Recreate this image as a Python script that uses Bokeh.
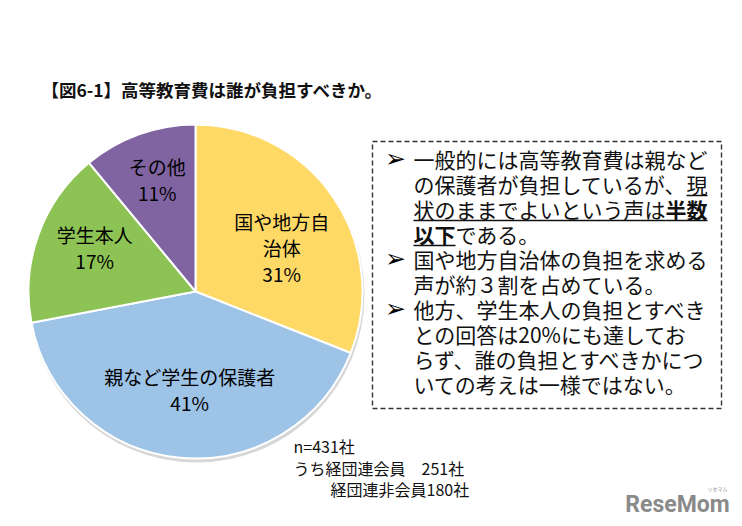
import math
from bokeh.plotting import figure
from bokeh.models import Range1d, ColumnDataSource
from bokeh.core.properties import value
from bokeh.embed import file_html
from bokeh.resources import INLINE

# ---------------- data ----------------
categories = ["国や地方自治体", "親など学生の保護者", "学生本人", "その他"]
shares = [31, 41, 17, 11]
label_lines = [["国や地方自", "治体"], ["親など学生の保護者"], ["学生本人"], ["その他"]]
title_text = "【図6-1】高等教育費は誰が負担すべきか。"
note_lines = ["n=431社", "うち経団連会員\u3000251社", "経団連非会員180社"]
box_lines = [
    [("一般的には高等教育費は親など", False, False)],
    [("の保護者が負担しているが、", False, False), ("現", False, True)],
    [("状のままでよいという声は", False, True), ("半数", True, True)],
    [("以下", True, True), ("である。", False, False)],
    [("国や地方自治体の負担を求める", False, False)],
    [("声が約３割を占めている。", False, False)],
    [("他方、学生本人の負担とすべき", False, False)],
    [("との回答は20%にも達してお", False, False)],
    [("らず、誰の負担とすべきかにつ", False, False)],
    [("いての考えは一様ではない。", False, False)],
]
bullet_rows = [0, 4, 6]

# ---------------- style / layout ----------------
colors = ["#FFD966", "#9DC3E6", "#8DC354", "#8064A2"]
JP = value("Noto Sans CJK JP")
W, H = 734, 518


def X(x):
    return x


def Y(y):
    return H - y


p = figure(width=W, height=H, x_range=Range1d(0, W), y_range=Range1d(0, H),
           output_backend="svg", toolbar_location=None, min_border=0)
p.axis.visible = False
p.grid.visible = False
p.outline_line_color = None
p.background_fill_color = "white"

# title
p.text(x=[X(41)], y=[Y(89)], text=[title_text], text_font=JP, text_font_style="bold",
       text_font_size="17.5px", text_baseline="middle", text_align="left", text_color="#111111")

# pie
cx, cy, R = X(195), Y(291), 167
total = float(sum(shares))
starts, ends, mids = [], [], []
cum = 0.0
for v in shares:
    a0 = math.pi / 2 - 2 * math.pi * cum / total
    cum += v
    a1 = math.pi / 2 - 2 * math.pi * cum / total
    starts.append(a0)
    ends.append(a1)
    mids.append((a0 + a1) / 2)

# soft shadow
p.circle(x=[cx + 1], y=[cy - 3], radius=R + 1, fill_color="#bdbdbd", fill_alpha=0.6, line_color=None)
src = ColumnDataSource(dict(start=starts, end=ends, color=colors, cat=categories))
p.wedge(x=cx, y=cy, radius=R, start_angle="start", end_angle="end", direction="clock",
        fill_color="color", line_color="white", line_width=2, source=src)

# labels
label_r = [0.58, 0.59, 0.66, 0.71]
label_nudge = [-7, 2, -4, -1]  # degrees
line_gap = 26
for i, v in enumerate(shares):
    ang = mids[i] + math.radians(label_nudge[i])
    lx = cx + label_r[i] * R * math.cos(ang)
    ly = cy + label_r[i] * R * math.sin(ang)
    lines = label_lines[i] + [f"{v}%"]
    n = len(lines)
    for k, t in enumerate(lines):
        yy = ly + ((n - 1) / 2 - k) * line_gap
        p.text(x=[lx], y=[yy], text=[t], text_font=JP, text_font_size="19px",
               text_baseline="middle", text_align="center", text_color="#000000")

# dashed box
bx0, bx1, by0, by1 = X(372), X(721), Y(141), Y(408)
p.quad(left=[bx0], right=[bx1], top=[by0], bottom=[by1], fill_color=None,
       line_color="#333333", line_width=1.4, line_dash="5 3")

fs = 21
tx0 = 413
for r, runs in enumerate(box_lines):
    yy = Y(158 + 25 * r)
    xcur = tx0
    for txt, bold, ul in runs:
        p.text(x=[X(xcur)], y=[yy], text=[txt], text_font=JP, text_font_size=f"{fs}px",
               text_font_style="bold" if bold else "normal",
               text_baseline="middle", text_align="left", text_color="#111111")
        wid = 0
        for ch in txt:
            wid += fs if ord(ch) > 0x2000 else fs * 0.56
        if ul:
            p.segment(x0=[X(xcur)], x1=[X(xcur + wid)], y0=[yy - 12], y1=[yy - 12],
                      line_color="#111111", line_width=1.6)
        xcur += wid
    if r in bullet_rows:
        p.text(x=[X(395)], y=[yy], text=["➢"], text_font=value("DejaVu Sans"),
               text_font_size="25px", text_baseline="middle",
               text_align="center", text_color="#000000")

# note
note_x = [293, 293, 330]
note_y = [445, 467, 488]
for t, nx, ny in zip(note_lines, note_x, note_y):
    p.text(x=[X(nx)], y=[Y(ny)], text=[t], text_font=JP, text_font_size="16px",
           text_baseline="middle", text_align="left", text_color="#111111")

# watermark
p.text(x=[X(677)], y=[Y(504)], text=["ReseMom"], text_font=value("Roboto"), text_font_style="bold",
       text_font_size="23px", text_baseline="middle", text_align="center", text_color="#8a8a8a")
p.text(x=[X(717)], y=[Y(488)], text=["リセマム"], text_font=JP,
       text_font_size="5px", text_baseline="middle", text_align="center", text_color="#8a8a8a")

open("out.html", "w").write(file_html(p, INLINE))
